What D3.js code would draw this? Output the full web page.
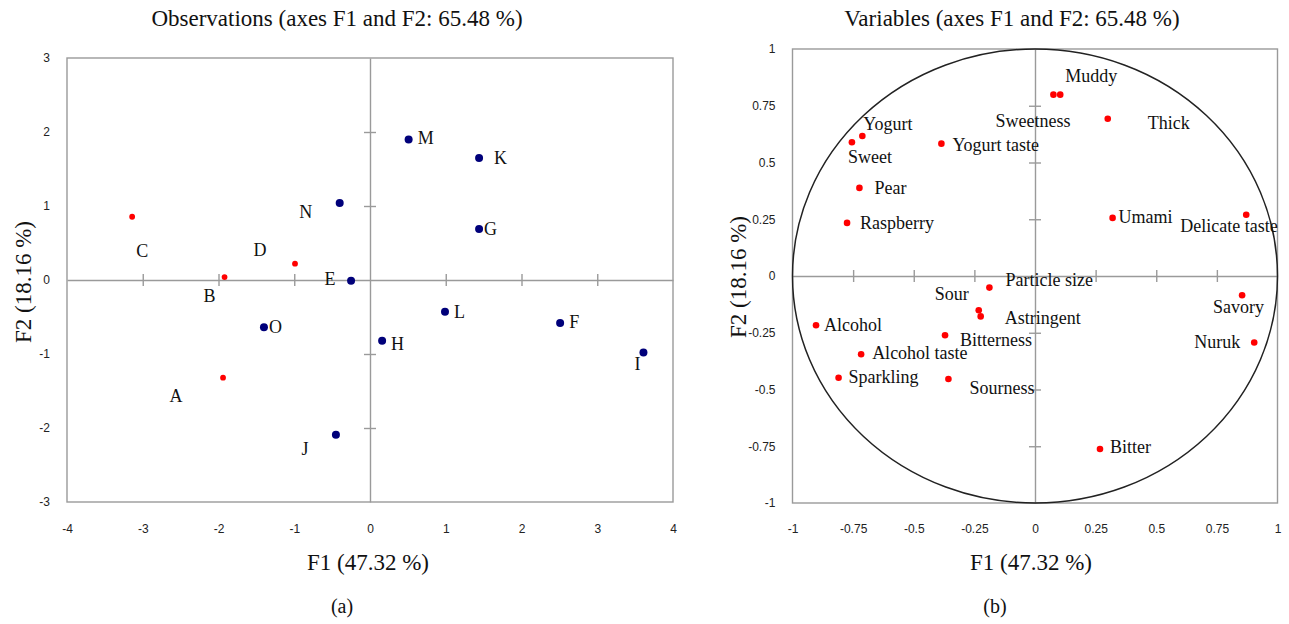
<!DOCTYPE html>
<html>
<head>
<meta charset="utf-8">
<script src="https://cdn.jsdelivr.net/npm/d3@7"></script>
<style>
  html, body { margin: 0; padding: 0; background: #fff; }
  svg { display: block; }
  .tick-label text { font-family: "Liberation Sans", Arial, sans-serif; font-size: 12px; fill: #222; }
  .serif { font-family: "Liberation Serif", "Times New Roman", serif; fill: #111; }
</style>
</head>
<body>
<svg id="chart" width="1289" height="624"></svg>
<script>
"use strict";

// ---- data: observations (left) ----
const obsNames = ["A", "B", "C", "D", "E", "F", "G", "H", "I", "J", "K", "L", "M", "N", "O"];
const obsF1 = [-1.94, -1.92, -3.14, -0.99, -0.25, 2.51, 1.44, 0.16, 3.61, -0.45, 1.44, 0.99, 0.51, -0.40, -1.40];
const obsF2 = [-1.32, 0.04, 0.855, 0.22, -0.01, -0.58, 0.69, -0.82, -0.98, -2.09, 1.65, -0.43, 1.90, 1.04, -0.64];
const obsSupplementary = ["A", "B", "C", "D"];

// ---- data: variables (right) ----
const varNames = ["Yogurt", "Sweet", "Yogurt taste", "Pear", "Raspberry", "Sweetness", "Muddy", "Thick",
  "Umami", "Delicate taste", "Particle size", "Sour", "Astringent", "Alcohol", "Bitterness",
  "Alcohol taste", "Sparkling", "Sourness", "Savory", "Nuruk", "Bitter"];
const varF1 = [-0.712, -0.755, -0.386, -0.724, -0.775, 0.076, 0.104, 0.30, 0.32, 0.871, -0.188, -0.232,
  -0.224, -0.903, -0.371, -0.717, -0.81, -0.357, 0.854, 0.904, 0.268];
const varF2 = [0.617, 0.589, 0.583, 0.388, 0.234, 0.799, 0.799, 0.693, 0.256, 0.270, -0.051, -0.151,
  -0.178, -0.217, -0.261, -0.345, -0.448, -0.454, -0.085, -0.293, -0.762];

// ---- tick labels ----
const obsXTicks = [-4, -3, -2, -1, 0, 1, 2, 3, 4];
const obsYTicks = [-3, -2, -1, 0, 1, 2, 3];
const varTicks = [-1, -0.75, -0.5, -0.25, 0, 0.25, 0.5, 0.75, 1];

// ---- label placement (pixels from the point: dx, baseline dy, anchor) ----
const obsLabelPos = {
  A: [-47, 24, "middle"], B: [-15, 25, "middle"], C: [10, 40, "middle"], D: [-35, -8, "middle"],
  E: [-21, 4, "middle"], F: [9, 5, "start"], G: [5, 6, "start"], H: [9, 9, "start"],
  I: [-6, 17, "middle"], J: [-31, 20, "middle"], K: [15, 6, "start"], L: [9, 6, "start"],
  M: [9, 5, "start"], N: [-34, 15, "middle"], O: [5, 6, "start"]
};
const varLabelPos = {
  "Yogurt": [1, -6, "start"], "Sweet": [-4, 21, "start"], "Yogurt taste": [11, 7, "start"],
  "Pear": [15, 6, "start"], "Raspberry": [13, 6, "start"], "Sweetness": [17, 32, "end"],
  "Muddy": [5, -13, "start"], "Thick": [40, 10, "start"], "Umami": [6, 5, "start"],
  "Delicate taste": [-66, 17, "start"], "Particle size": [16, -2, "start"], "Sour": [-10, -10, "end"],
  "Astringent": [24, 8, "start"], "Alcohol": [8, 6, "start"], "Bitterness": [15, 11, "start"],
  "Alcohol taste": [11, 5, "start"], "Sparkling": [10, 5, "start"], "Sourness": [21, 15, "start"],
  "Savory": [-29, 18, "start"], "Nuruk": [-14, 5, "end"], "Bitter": [10, 4, "start"]
};

const svg = d3.select("#chart");
const fmt = d => String(d);
const frameColor = "#9a9a9a";

function drawPanel(opts) {
  const g = svg.append("g");
  const x = d3.scaleLinear().domain(opts.xDomain).range(opts.xRange);
  const y = d3.scaleLinear().domain(opts.yDomain).range(opts.yRange);

  // frame
  g.append("rect")
    .attr("x", opts.xRange[0]).attr("y", opts.yRange[1])
    .attr("width", opts.xRange[1] - opts.xRange[0])
    .attr("height", opts.yRange[0] - opts.yRange[1])
    .attr("fill", "none").attr("stroke", frameColor).attr("stroke-width", 1.4);

  // zero lines with crossing ticks
  const xZero = g.append("g")
    .attr("transform", "translate(0," + y(0) + ")")
    .call(d3.axisBottom(x).tickValues(opts.xTicks.filter(d => d !== 0 && d !== opts.xDomain[0] && d !== opts.xDomain[1]))
      .tickSize(6).tickSizeOuter(0).tickFormat(""));
  const yZero = g.append("g")
    .attr("transform", "translate(" + x(0) + ",0)")
    .call(d3.axisLeft(y).tickValues(opts.yTicks.filter(d => d !== 0 && d !== opts.yDomain[0] && d !== opts.yDomain[1]))
      .tickSize(6).tickSizeOuter(0).tickFormat(""));
  xZero.selectAll(".tick line").attr("y1", -6).attr("y2", 6);
  yZero.selectAll(".tick line").attr("x1", -6).attr("x2", 6);
  [xZero, yZero].forEach(a => {
    a.select(".domain").attr("stroke", frameColor).attr("stroke-width", 1.4);
    a.selectAll(".tick line").attr("stroke", frameColor).attr("stroke-width", 1.4);
  });

  // tick labels
  const xLab = g.append("g").attr("class", "tick-label")
    .attr("transform", "translate(0," + opts.yRange[0] + ")")
    .call(d3.axisBottom(x).tickValues(opts.xTicks).tickSize(0).tickPadding(opts.xPad).tickFormat(fmt));
  const yLab = g.append("g").attr("class", "tick-label")
    .attr("transform", "translate(" + opts.xRange[0] + ",0)")
    .call(d3.axisLeft(y).tickValues(opts.yTicks).tickSize(0).tickPadding(opts.yPad).tickFormat(fmt));
  xLab.select(".domain").remove();
  yLab.select(".domain").remove();
  [xLab, yLab].forEach(a => a.attr("font-family", null).attr("font-size", null));

  // titles
  g.append("text").attr("class", "serif")
    .attr("x", opts.titleX).attr("y", 26).attr("text-anchor", "middle")
    .attr("font-size", 23).text(opts.title);
  g.append("text").attr("class", "serif")
    .attr("x", opts.xTitleX).attr("y", 570).attr("text-anchor", "middle")
    .attr("font-size", 23).text("F1 (47.32 %)");
  g.append("text").attr("class", "serif")
    .attr("transform", "translate(" + opts.yTitleX + "," + opts.yTitleY + ") rotate(-90)")
    .attr("text-anchor", "middle")
    .attr("font-size", 23).text("F2 (18.16 %)");
  g.append("text").attr("class", "serif")
    .attr("x", opts.captionX).attr("y", 613).attr("text-anchor", "middle")
    .attr("font-size", 20).text(opts.caption);

  return { g, x, y };
}

// ---- left panel: observations ----
const left = drawPanel({
  xDomain: [-4, 4], xRange: [67, 673],
  yDomain: [-3, 3], yRange: [502, 58],
  xTicks: obsXTicks, yTicks: obsYTicks,
  xPad: 22, yPad: 17,
  title: "Observations (axes F1 and F2: 65.48 %)", titleX: 337,
  xTitleX: 368, yTitleX: 31, yTitleY: 282,
  caption: "(a)", captionX: 342
});

const obsData = obsNames.map((n, i) => ({ name: n, f1: obsF1[i], f2: obsF2[i], sup: obsSupplementary.includes(n) }));

left.g.selectAll(".obs")
  .data(obsData)
  .enter()
  .append("circle")
  .attr("cx", d => left.x(d.f1))
  .attr("cy", d => left.y(d.f2))
  .attr("r", d => d.sup ? 2.9 : 4)
  .attr("fill", d => d.sup ? "#ff0000" : "#00007a");

left.g.selectAll(".obs-label")
  .data(obsData)
  .enter()
  .append("text")
  .attr("class", "serif")
  .attr("font-size", 18)
  .attr("x", d => left.x(d.f1) + obsLabelPos[d.name][0])
  .attr("y", d => left.y(d.f2) + obsLabelPos[d.name][1])
  .attr("text-anchor", d => obsLabelPos[d.name][2])
  .text(d => d.name);

// ---- right panel: variables ----
const right = drawPanel({
  xDomain: [-1, 1], xRange: [792.5, 1277.5],
  yDomain: [-1, 1], yRange: [503, 49],
  xTicks: varTicks, yTicks: varTicks,
  xPad: 21, yPad: 17,
  title: "Variables (axes F1 and F2: 65.48 %)", titleX: 1012,
  xTitleX: 1031, yTitleX: 746, yTitleY: 277,
  caption: "(b)", captionX: 995
});

// correlation circle
right.g.append("ellipse")
  .attr("cx", right.x(0)).attr("cy", right.y(0))
  .attr("rx", right.x(1) - right.x(0)).attr("ry", right.y(0) - right.y(1))
  .attr("fill", "none").attr("stroke", "#222").attr("stroke-width", 1.5);

const varData = varNames.map((n, i) => ({ name: n, f1: varF1[i], f2: varF2[i] }));

right.g.selectAll(".var")
  .data(varData)
  .enter()
  .append("circle")
  .attr("cx", d => right.x(d.f1))
  .attr("cy", d => right.y(d.f2))
  .attr("r", 3.3)
  .attr("fill", "#ff0000");

right.g.selectAll(".var-label")
  .data(varData)
  .enter()
  .append("text")
  .attr("class", "serif")
  .attr("font-size", 18)
  .attr("x", d => right.x(d.f1) + varLabelPos[d.name][0])
  .attr("y", d => right.y(d.f2) + varLabelPos[d.name][1])
  .attr("text-anchor", d => varLabelPos[d.name][2])
  .text(d => d.name);
</script>
</body>
</html>
